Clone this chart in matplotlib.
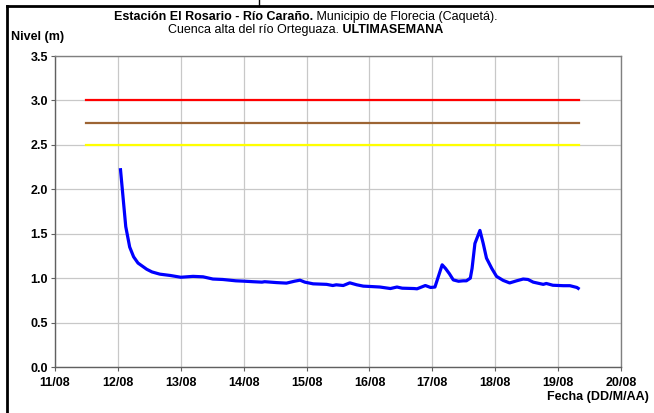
import matplotlib
matplotlib.use('Agg')
import matplotlib.pyplot as plt
import matplotlib.dates as mdates
from matplotlib.lines import Line2D
import pandas as pd

plt.rcParams['font.family'] = ['Liberation Sans', 'DejaVu Sans']

# ---- data ----
times = [
    '2021-08-12 01:00', '2021-08-12 02:00', '2021-08-12 03:00', '2021-08-12 04:30',
    '2021-08-12 06:00', '2021-08-12 07:40', '2021-08-12 11:00', '2021-08-12 13:00',
    '2021-08-12 16:00', '2021-08-12 20:00', '2021-08-13 00:00', '2021-08-13 04:40',
    '2021-08-13 08:30', '2021-08-13 12:15', '2021-08-13 16:00', '2021-08-13 21:00',
    '2021-08-14 00:00', '2021-08-14 03:30', '2021-08-14 07:00', '2021-08-14 08:00',
    '2021-08-14 12:30', '2021-08-14 16:20', '2021-08-14 19:30', '2021-08-14 21:30',
    '2021-08-14 23:20', '2021-08-15 02:30', '2021-08-15 07:40', '2021-08-15 10:00',
    '2021-08-15 11:20', '2021-08-15 14:00', '2021-08-15 16:30', '2021-08-15 19:10',
    '2021-08-15 21:40', '2021-08-16 00:20', '2021-08-16 04:00', '2021-08-16 08:00',
    '2021-08-16 10:30', '2021-08-16 12:30', '2021-08-16 17:00', '2021-08-16 18:10',
    '2021-08-16 21:20', '2021-08-16 23:20', '2021-08-17 01:00', '2021-08-17 03:45',
    '2021-08-17 05:00', '2021-08-17 06:30', '2021-08-17 08:00', '2021-08-17 10:00',
    '2021-08-17 11:50', '2021-08-17 13:00', '2021-08-17 14:30', '2021-08-17 15:10',
    '2021-08-17 16:15', '2021-08-17 18:10', '2021-08-17 19:25', '2021-08-17 20:40',
    '2021-08-17 22:40', '2021-08-18 00:30', '2021-08-18 03:00', '2021-08-18 05:30',
    '2021-08-18 08:10', '2021-08-18 10:40', '2021-08-18 12:30', '2021-08-18 14:30',
    '2021-08-18 18:20', '2021-08-18 19:30', '2021-08-18 22:00', '2021-08-19 02:00',
    '2021-08-19 04:30', '2021-08-19 07:10', '2021-08-19 07:40',
]
levels = [
    2.22, 1.90, 1.58, 1.35,
    1.24, 1.17, 1.10, 1.07,
    1.045, 1.03, 1.01, 1.02,
    1.015, 0.99, 0.985, 0.97,
    0.966, 0.96, 0.955, 0.96,
    0.95, 0.944, 0.966, 0.977,
    0.955, 0.936, 0.93, 0.917,
    0.925, 0.917, 0.947, 0.925,
    0.91, 0.906, 0.90, 0.883,
    0.90, 0.887, 0.883, 0.88,
    0.917, 0.895, 0.90, 1.15,
    1.11, 1.05, 0.98, 0.965,
    0.97, 0.97, 1.00, 1.11,
    1.39, 1.537, 1.39, 1.225,
    1.11, 1.02, 0.975, 0.946,
    0.97, 0.99, 0.985, 0.955,
    0.93, 0.94, 0.92, 0.915,
    0.915, 0.895, 0.885,
]
threshold_times = ['2021-08-11 12:00', '2021-08-19 08:00']
level_red = 3.0
level_brown = 2.75
level_yellow = 2.5
x_tick_dates = pd.date_range('2021-08-11', '2021-08-20', freq='D')
y_ticks = [0.0, 0.5, 1.0, 1.5, 2.0, 2.5, 3.0, 3.5]

t = pd.to_datetime(times)
tt = pd.to_datetime(threshold_times)

W, H = 654, 413
fig = plt.figure(figsize=(W / 100, H / 100), dpi=100)
ax = fig.add_axes([55 / W, 1 - 367 / H, (621 - 55) / W, (367 - 56) / H])

grid_c = '#c8c8c8'
ax.plot(tt, [level_red] * 2, color='#ff0000', lw=1.6, zorder=3)
ax.plot(tt, [level_brown] * 2, color='#9c6433', lw=1.6, zorder=3)
ax.plot(tt, [level_yellow] * 2, color='#ffff00', lw=1.6, zorder=3)
ax.plot(t, levels, color='#0000ff', lw=2.3, zorder=4, solid_joinstyle='round')

ax.set_xlim(x_tick_dates[0], x_tick_dates[-1])
ax.set_ylim(0, 3.5)
ax.set_xticks(x_tick_dates)
ax.xaxis.set_major_formatter(mdates.DateFormatter('%d/%m'))
ax.set_yticks(y_ticks)
ax.set_yticklabels([f'{v:.1f}' for v in y_ticks])
ax.grid(True, color=grid_c, lw=0.9, zorder=0)
ax.set_axisbelow(True)
for s in ax.spines.values():
    s.set_color('#808080')
    s.set_linewidth(1.0)
ax.spines['left'].set_color('#606060')
ax.spines['bottom'].set_color('#606060')
ax.tick_params(axis='both', direction='out', length=3, width=0.8, color='#606060',
               labelsize=9, pad=2)
for lab in ax.get_xticklabels() + ax.get_yticklabels():
    lab.set_fontweight('bold')
ax.tick_params(axis='x', pad=4)

FS = 9
# Titles and axis labels
fig.text(11 / W, 1 - 37 / H, 'Nivel (m)', fontsize=FS, fontweight='bold', va='center', ha='left')
fig.text(649 / W, 1 - 397 / H, 'Fecha (DD/M/AA)', fontsize=FS, fontweight='bold',
         va='center', ha='right')

renderer = fig.canvas.get_renderer()


def draw_pieces(pieces, cx, cy):
    objs = []
    widths = []
    for txt, wt in pieces:
        o = fig.text(0, cy, txt, fontsize=FS, fontweight=wt, va='center', ha='left')
        objs.append(o)
        widths.append(o.get_window_extent(renderer).width)
    total = sum(widths)
    x = cx - total / 2
    for o, w in zip(objs, widths):
        o.set_x(x / W)
        x += w


draw_pieces([('Estación El Rosario - Río Caraño.', 'bold'),
             (' Municipio de Florecia (Caquetá).', 'normal')], 306, 1 - 17 / H)
draw_pieces([('Cuenca alta del río Orteguaza.', 'normal'),
             (' ULTIMASEMANA', 'bold')], 306, 1 - 30 / H)

# Outer border
fig.add_artist(Line2D([6.5 / W, 1.0], [1 - 5.5 / H, 1 - 5.5 / H], color='black', lw=2,
                      transform=fig.transFigure))
fig.add_artist(Line2D([6.5 / W, 6.5 / W], [0, 1 - 5.5 / H], color='black', lw=2,
                      transform=fig.transFigure))
fig.add_artist(Line2D([259 / W, 259 / W], [1 - 5.5 / H, 1.0], color='black', lw=1,
                      transform=fig.transFigure))

fig.savefig('out.png', dpi=100)
